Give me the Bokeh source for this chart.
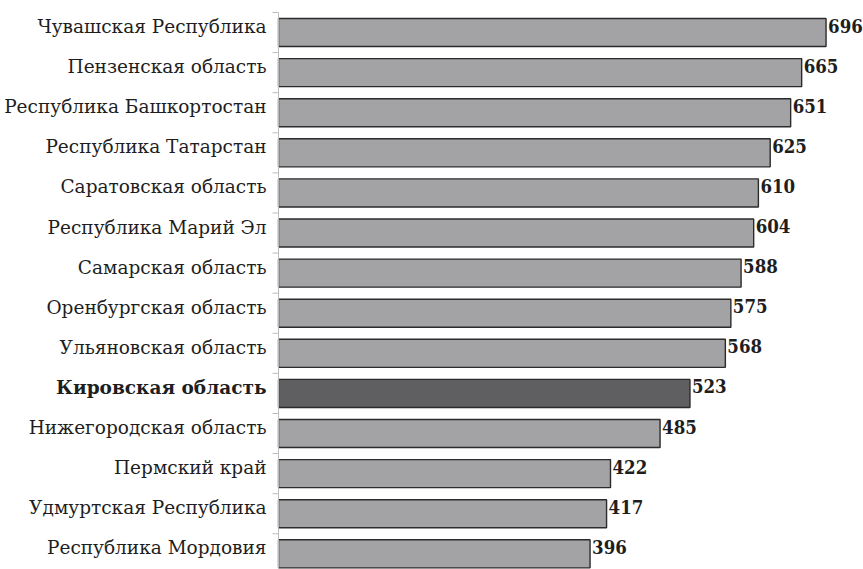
from bokeh.plotting import figure
from bokeh.models import ColumnDataSource, Range1d
from bokeh.core.properties import value
from bokeh.embed import file_html
from bokeh.resources import INLINE

regions = [
    "Чувашская Республика",
    "Пензенская область",
    "Республика Башкортостан",
    "Республика Татарстан",
    "Саратовская область",
    "Республика Марий Эл",
    "Самарская область",
    "Оренбургская область",
    "Ульяновская область",
    "Кировская область",
    "Нижегородская область",
    "Пермский край",
    "Удмуртская Республика",
    "Республика Мордовия",
]
values = [696, 665, 651, 625, 610, 604, 588, 575, 568, 523, 485, 422, 417, 396]
highlight = "Кировская область"

n = len(regions)
ypos = [n - 1 - i for i in range(n)]
fills = ["#5f5f62" if r == highlight else "#a3a3a6" for r in regions]
styles = ["bold" if r == highlight else "normal" for r in regions]

src = ColumnDataSource(dict(y=ypos, v=values, r=regions, fill=fills,
                            style=styles, zero=[0] * n))

y_top = n - 0.201
y_bot = -0.391
p = figure(width=863, height=569, output_backend="svg", toolbar_location=None,
           x_range=Range1d(-353.4, 743.6), y_range=Range1d(y_bot, y_top),
           min_border=0)
p.axis.visible = False
p.grid.visible = False
p.outline_line_color = None

p.hbar(y="y", left=0, right="v", height=0.7, source=src, fill_color="fill",
       line_color="#2b2b2b", line_width=1.4)

# axis line and boundary ticks
bounds = [k + 0.5 for k in range(-1, n)]
p.segment(x0=[0], y0=[n - 0.5], x1=[0], y1=[y_bot], line_color="#bdbdbd", line_width=1)
p.ray(x=[0] * len(bounds), y=bounds, length=6, angle=3.14159265, length_units="screen",
      line_color="#bdbdbd", line_width=1)

p.text(x="zero", y="y", text="r", source=src, x_offset=-12, y_offset=-6,
       text_align="right", text_baseline="middle",
       text_font=value("DejaVu Serif"), text_font_size="18.5px",
       text_font_style="style", text_color="#1e1e1e")

p.text(x="v", y="y", text="v", source=src, x_offset=2, y_offset=-7,
       text_align="left", text_baseline="middle",
       text_font=value("DejaVu Serif Condensed"), text_font_size="18.5px",
       text_font_style="bold", text_color="#1e1e1e")

open("out.html", "w").write(file_html(p, INLINE))
